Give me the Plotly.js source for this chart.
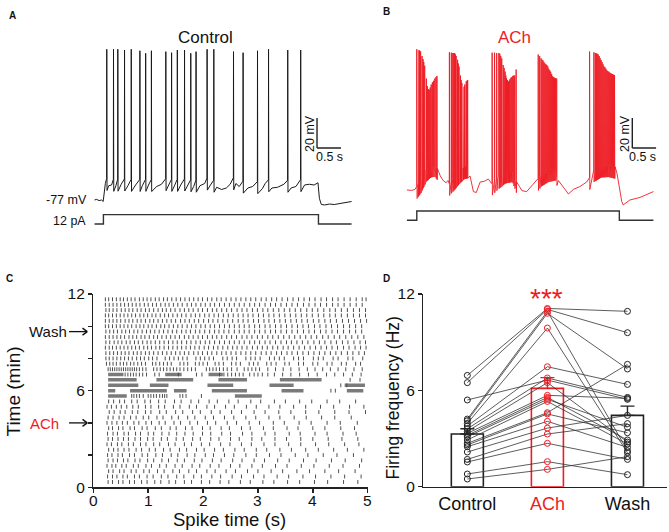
<!DOCTYPE html>
<html><head><meta charset="utf-8">
<script src="https://cdn.plot.ly/plotly-3.0.1.min.js"></script>
<style>html,body{margin:0;padding:0;background:#fff}#chart{width:669px;height:532px}</style>
</head><body><div id="chart"></div>
<script>
const FONT = 'Liberation Sans, Arial, Helvetica, sans-serif';
const RED = '#ED1C24';

// ---------------- Panel A (Control trace) ----------------
const aBaseT = [0,0.05,0.1,0.15,0.185,0.2,0.23,0.3,0.36,0.45,0.56,0.7,0.86,1.0,1.13,1.3,1.4,1.55,1.67,1.8,1.95,2.07,2.2,2.3,2.42,2.55,2.65,2.75,2.83,2.95,3.02,3.2,3.3,3.5,3.56,3.7,3.82,3.95,4.1,4.2,4.38,4.48,4.58,4.66,4.69,4.73,4.8,4.9,5.0,5.1,5.2,5.3,5.36];
const aBaseV = [-77,-76.6,-77.4,-77,-78,-72,-66,-67.5,-67,-67.5,-66.5,-67.5,-67,-67.5,-67,-68,-66.5,-67,-67.5,-67,-67,-68,-67.5,-66,-67,-68.5,-70,-69,-66.5,-66,-68,-69,-68,-69.5,-66,-69,-68.5,-66.5,-69,-68,-67,-66.5,-67,-65.5,-76,-80,-80.3,-79.7,-80,-79.5,-79.2,-78.5,-78];
const aSpikeT = [0.26,0.40,0.49,0.63,0.77,0.95,1.07,1.19,1.49,1.61,1.73,1.88,2.01,2.12,2.35,2.49,2.90,3.10,3.40,3.63,4.03,4.30];
const aSpikePeak = [23.5,23.5,23.5,23,23.5,22.5,20.8,22.5,21.9,21.2,23,23,20.8,21.9,23.5,23.5,21.9,21.2,22.5,23.5,23,23];
const aStepT = [0,0.19,0.19,4.67,4.67,5.36];
const aStepI = [0,0,12,12,0,0];

// ---------------- Panel B (ACh trace) ----------------
const bBaseT = [0,0.1,0.17,0.21,0.3,0.4,0.5,0.58,0.64,0.7,0.76,0.82,0.86,0.89,1.0,1.1,1.2,1.27,1.32,1.39,1.45,1.53,1.62,1.7,1.77,1.9,2.05,2.2,2.29,2.35,2.40,2.5,2.6,2.66,2.71,2.8,2.95,3.1,3.16,3.26,3.37,3.47,3.61,3.75,3.81,3.9,4.05,4.2,4.34,4.38,4.43,4.48,4.51,4.65,4.86,5.0,5.14];
const bBaseV = [-70.3,-70.6,-70,-68,-64,-57,-54,-53.5,-56,-61,-64,-65.5,-64,-66,-62,-58,-55,-54.5,-61,-71.4,-72,-65,-64.5,-63,-66,-62,-58,-57,-65,-68,-70.8,-71.4,-68,-66,-64,-60,-57,-56,-64,-68,-73,-70,-68,-65,-62,-57,-54,-53.7,-54.8,-59,-68,-78,-80.3,-77,-75.3,-73.5,-71.4];
const bSpikeT = [
  0.21,0.225,0.24,0.255,0.27,0.29,0.305,0.32,0.34,0.355,0.375,0.39,0.41,0.43,0.45,0.47,0.49,0.51,0.535,0.56,0.585,0.61,0.63,
  0.89,0.93,0.96,0.98,1.0,1.015,1.03,1.045,1.06,1.075,1.09,1.105,1.12,1.135,1.15,1.165,1.18,1.195,1.21,1.225,1.24,1.255,1.27,
  1.78,1.83,1.875,1.92,1.94,1.96,1.98,1.995,2.01,2.03,2.05,2.065,2.08,2.10,2.12,2.135,2.15,2.17,2.19,2.21,2.23,2.25,2.28,
  2.74,2.77,2.80,2.82,2.84,2.86,2.88,2.90,2.92,2.94,2.96,2.98,3.00,3.02,3.04,3.06,3.08,3.10,3.125,
  3.81,3.90,3.93,3.95,3.97,3.99,4.01,4.03,4.05,4.07,4.09,4.11,4.13,4.15,4.17,4.19,4.21,4.23,4.25,4.27,4.29,4.31,4.33];
const bSpikePeak = [
  23.5,23.5,23,23,22.5,22,21,19,17,15,12.5,9,4,-1,-3,-3.5,-2,0,1.5,2.5,4,5,5.7,
  21.5,21.2,21,21,21,20,19,18,16.5,14,12,9,6,3,1,-1,-2.3,-1.5,0,1,2,2.5,3,
  21.2,21.2,21,21,20.5,19,17.4,15,13,11,8.6,6,4.1,3,1.9,2.5,3.5,4.5,5,5.7,6,6,10,
  20,19,17.5,16.5,16,15,14,13.5,13,12,10.5,9.5,8.5,7,5.5,5,4.5,4.2,4,
  22,21.5,21,20.8,20.5,20,19,17.5,16.3,15,13.5,12,11.5,10.5,9.5,9,8.5,8,7.5,7.2,7,6.5,6.3];
const bStepT = [0,0.21,0.21,4.43,4.43,5.14];
const bStepI = [0,0,12,12,0,0];

// scale bars
const scaleMV = 20, scaleS = 0.5;
const aScaleAnchor = [4.64, -42.3];
const bScaleAnchor = [4.70, -42.3];

// ---------------- Panel C (raster) ----------------
const rasterRowMin = [0.33,0.67,1,1.33,1.67,2,2.33,2.67,3,3.33,3.67,4,4.33,4.67,5,5.33,5.67,6,6.33,6.67,7,7.33,7.67,8,8.33,8.67,9,9.33,9.67,10,10.33,10.67,11,11.33,11.67];
// spike times per row (hundredths of a second), bottom row first
const rasterSpikes = [
 "27 35 46 54 66 75 88 98 112 123 138 150 166 179 197 212 231 247 268 286 309 329 354 376 403 427 456 482",
 "26 35 43 54 62 75 84 98 109 124 136 152 165 183 197 216 232 253 270 292 311 335 356 382 405 433 458 488",
 "28 36 48 56 69 78 92 102 117 129 145 157 174 188 207 222 242 259 281 300 324 345 371 394 422 447 477",
 "25 34 41 52 60 73 82 96 106 121 133 149 162 180 194 213 229 250 267 289 308 332 353 379 402 430 455 485",
 "27 36 44 55 63 76 85 99 110 125 137 153 166 184 198 217 233 254 271 293 312 336 357 383 406 434 459 489",
 "26 34 45 53 66 75 89 99 114 126 142 154 171 185 204 219 239 256 278 297 321 342 368 391 419 444 474",
 "28 37 45 56 65 78 88 102 113 128 140 157 170 188 202 221 237 258 275 297 316 340 361 387 410 438 463 493",
 "25 33 44 52 64 73 86 96 110 121 137 149 166 179 197 212 232 249 270 288 311 331 356 378 405 429 458 484",
 "27 35 45 55 64 76 86 99 109 124 135 151 164 181 195 214 229 250 266 289 307 331 352 378 400 428 453 482",
 "26 36 44 56 64 77 86 100 110 125 138 152 167 182 199 214 234 250 272 289 313 331 357 377 404 426 455 479",
 "28 35 46 54 67 75 89 98 113 124 140 151 168 180 199 213 233 248 270 286 310 328 353 373 400 422 451 476",
 "25 34 43 53 62 74 83 96 106 120 131 147 159 176 190 208 223 244 261 284 303 328 348 375 397 426 450 481",
 "27 36 47 56 68 78 91 101 116 127 143 155 172 185 204 219 239 256 278 296 320 340 366 388 416 440 470",
 "29 38 49 58 71 81 95 105 121 133 150 163 181 195 215 231 252 270 293 313 338 360 387 411 440 466 496",
 "25 33 42 51 61 72 82 95 105 119 130 146 158 175 188 207 221 241 257 279 297 320 340 365 387 414 438 467 493",
 "28 37 48 57 70 80 94 104 119 131 148 160 178 192 211 226 247 264 287 305 330 350 376 398 426 449 478",
 "70 74 79 84 91 100 105 110 115 121 126 130 134 158 163 169 197",
 "433 441",
 "451 462",
 "468 486",
 "58 63 68 73 78 84 90 97 112 120 155 188 198 230 238 245 252 259 266 273 285 293 300 308 318 330 345 360 376 392 408 425 440 456 472 488",
 "27 31 35 39 43 47 51 55 59 63 67 71 75 79 84 90 96 110 116 122 128 134 140 146 152 158 165 172 179 186 206 212 218 224 230 237 244 252 262 275 282 289 296 303 318 332 346 360 375 390 404 418 432 446 460 475 490",
 "24 30 36 42 49 55 61 68 74 81 88 95 108 114 121 128 135 142 158 165 172 186 193 200 208 222 229 237 252 260 268 284 292 300 316 324 333 349 357 374 383 400 409 426 435 452 461 478 487",
 "23 29 36 43 50 57 64 71 79 86 93 101 108 116 131 139 147 155 163 171 187 195 203 211 219 236 244 253 261 278 287 295 304 321 330 339 348 365 374 383 401 410 419 437 446 464 473 491",
 "23 30 37 44 51 58 65 73 80 87 95 102 110 118 126 134 142 150 158 166 174 183 191 199 208 216 225 234 242 251 260 269 278 287 296 306 315 324 334 343 353 362 372 382 392 402 412 422 432 442 452 463 473 484 494",
 "22 29 35 42 49 56 63 70 77 84 92 99 106 114 121 129 137 145 153 161 169 177 185 193 202 210 219 227 236 245 254 262 271 280 290 299 308 317 327 336 346 355 365 375 385 395 405 415 425 435 445 456 466 477 487 497",
 "23 30 38 45 52 60 67 75 82 90 98 105 113 121 129 137 145 153 161 170 178 187 195 204 212 221 230 239 248 257 266 275 285 294 303 313 322 332 342 352 361 371 381 391 402 412 422 433 443 454 464 475 486 496",
 "22 29 36 43 50 57 65 72 79 87 94 102 110 117 125 133 141 149 157 166 174 182 191 199 208 217 225 234 243 252 261 271 280 289 299 308 318 327 337 347 357 367 377 387 397 407 418 428 439 449 460 471 482 493",
 "23 30 37 44 52 59 66 74 81 89 97 104 112 120 128 136 144 152 161 169 177 186 194 203 212 221 229 238 247 257 266 275 284 294 303 313 323 332 342 352 362 372 383 393 403 414 424 435 445 456 467 478 489",
 "22 28 35 42 49 56 63 70 78 85 92 100 107 115 123 130 138 146 154 162 171 179 187 196 204 213 221 230 239 248 257 266 275 284 294 303 313 322 332 342 352 362 372 382 392 403 413 424 434 445 456 467 478 489",
 "22 29 36 43 50 58 65 72 80 87 95 103 110 118 126 134 142 150 159 167 175 184 192 201 210 218 227 236 245 254 264 273 282 292 301 311 320 330 340 350 360 370 380 390 401 411 422 432 443 454 465 476 487 498",
 "22 28 35 42 49 56 63 70 77 85 92 99 107 114 122 130 137 145 153 161 169 178 186 194 203 211 220 228 237 246 255 264 273 282 291 301 310 320 329 339 349 359 369 379 389 399 410 420 431 441 452 463 474 485 496",
 "23 29 36 43 51 58 65 72 80 87 95 102 110 118 126 133 141 149 158 166 174 182 191 199 208 217 225 234 243 252 262 271 280 290 299 309 318 328 338 348 358 368 378 389 399 409 420 431 441 452 463 474 485 496",
 "22 29 36 43 50 57 64 71 78 85 93 100 108 115 123 131 138 146 154 162 171 179 187 196 204 213 221 230 239 248 257 266 275 285 294 303 313 323 332 342 352 362 372 383 393 404 414 425 436 446 457 468 479 490",
 "22 28 35 42 49 55 62 69 76 84 91 98 105 113 120 128 135 143 151 159 167 175 183 191 199 208 216 225 233 242 251 260 269 278 287 296 306 315 325 334 344 354 364 374 384 394 404 415 425 436 446 457 468 479 490 497"
];
// dense bursts per row index (start-end, hundredths of a second)
const rasterBursts = {16:"27-61 258-307", 17:"27-40 67-134 147-170 216-280 343-383 462-492", 18:"27-82 103-137 208-255 321-365 458-495", 19:"27-79 115-182 228-280 340-416", 20:"27-55 131-161 210-236"};
const rasterTickVals = [0,2,4,6,8,10,12];
const rasterTickText = ['0','','','6','','','12'];
const spikeTimeTicks = [0,1,2,3,4,5];
const washArrowMin = 9.67, achArrowMin = 4.0;

// ---------------- Panel D (firing frequency) ----------------
const groups = ['Control','ACh','Wash'];
const ctrlHz = [6.93,6.48,4.21,4.11,3.94,5.40,3.78,3.61,3.45,3.32,3.20,3.11,2.91,2.70,2.60,2.49,2.16,1.70,1.54,0.79,0.48];
const achHz  = [11.10,11.04,10.92,10.80,9.88,6.64,7.47,6.77,6.48,5.69,5.56,5.44,5.31,4.61,4.53,4.07,3.65,3.28,2.70,1.56,1.08];
const washHz = [10.92,9.59,2.24,7.33,2.12,5.44,6.37,5.56,2.78,5.50,2.91,3.70,2.66,7.62,3.36,2.45,4.44,3.93,1.70,0.75,1.87];
const meanHz = [3.28,6.12,4.44];
const semHz  = [0.33,0.67,0.58];
const groupColors = ['#222222', RED, '#222222'];

// ---------------- helpers ----------------
function interp(ts, vs, t){
  if (t <= ts[0]) return vs[0];
  for (let i=1;i<ts.length;i++){ if (t <= ts[i]) { const f=(t-ts[i-1])/(ts[i]-ts[i-1]); return vs[i-1]+f*(vs[i]-vs[i-1]); } }
  return vs[vs.length-1];
}
function buildTrace(baseT, baseV, spT, spPk, pre, drop){
  const pts = baseT.map((t,i)=>[t, baseV[i]]);
  spT.forEach((t,i)=>{ const b=interp(baseT, baseV, t); pts.push([t-0.003, b+pre],[t, spPk[i]],[t+0.005, b-drop]); });
  pts.sort((a,b)=>a[0]-b[0]);
  return {x: pts.map(p=>p[0]), y: pts.map(p=>p[1])};
}
const px = x => x/669, py = y => 1 - y/532;

const traces = [];
// A
const aTr = buildTrace(aBaseT, aBaseV, aSpikeT, aSpikePeak, 4, 4);
traces.push({x:aTr.x, y:aTr.y, xaxis:'x', yaxis:'y', mode:'lines', line:{color:'#1a1a1a', width:1}, hoverinfo:'skip'});
traces.push({x:aStepT, y:aStepI, xaxis:'x2', yaxis:'y2', mode:'lines', line:{color:'#333', width:1.4}, hoverinfo:'skip'});
traces.push({x:[aScaleAnchor[0],aScaleAnchor[0],null,aScaleAnchor[0],aScaleAnchor[0]+scaleS], y:[aScaleAnchor[1]+scaleMV,aScaleAnchor[1],null,aScaleAnchor[1],aScaleAnchor[1]], xaxis:'x', yaxis:'y', mode:'lines', line:{color:'#222', width:1.4}, hoverinfo:'skip'});
// B
const bTr = buildTrace(bBaseT, bBaseV, bSpikeT, bSpikePeak, 0, 8);
traces.push({x:bTr.x, y:bTr.y, xaxis:'x3', yaxis:'y3', mode:'lines', line:{color:RED, width:0.9}, hoverinfo:'skip'});
traces.push({x:bStepT, y:bStepI, xaxis:'x4', yaxis:'y4', mode:'lines', line:{color:'#333', width:1.4}, hoverinfo:'skip'});
traces.push({x:[bScaleAnchor[0],bScaleAnchor[0],null,bScaleAnchor[0],bScaleAnchor[0]+scaleS], y:[bScaleAnchor[1]+scaleMV,bScaleAnchor[1],null,bScaleAnchor[1],bScaleAnchor[1]], xaxis:'x3', yaxis:'y3', mode:'lines', line:{color:'#222', width:1.4}, hoverinfo:'skip'});
// C
const tx=[], ty=[];
rasterSpikes.forEach((s,i)=>{ if(!s) return; s.trim().split(/\s+/).forEach(v=>{ const t=+v/100; tx.push(t,t,null); ty.push(rasterRowMin[i]-0.12, rasterRowMin[i]+0.12, null); }); });
traces.push({x:tx, y:ty, xaxis:'x5', yaxis:'y5', mode:'lines', line:{color:'#3a3a3a', width:0.9}, hoverinfo:'skip'});
const bx=[], by=[];
Object.keys(rasterBursts).forEach(k=>{ rasterBursts[k].split(' ').forEach(seg=>{ const [s,e]=seg.split('-').map(v=>+v/100); bx.push(s,e,null); by.push(rasterRowMin[k],rasterRowMin[k],null); }); });
traces.push({x:bx, y:by, xaxis:'x5', yaxis:'y5', mode:'lines', line:{color:'rgba(70,70,70,0.72)', width:3.5}, hoverinfo:'skip'});
// D bars
for (let g=0; g<3; g++){
  traces.push({type:'bar', x:[g], y:[meanHz[g]], width:0.4, xaxis:'x6', yaxis:'y6', marker:{color:'white', line:{color:groupColors[g], width:1.6}},
    error_y:{type:'data', symmetric:false, array:[semHz[g]], arrayminus:[0], color:groupColors[g], thickness:1.4, width:7}, hoverinfo:'skip'});
}
// D paired lines
const lx=[], ly=[];
ctrlHz.forEach((c,i)=>{ lx.push(0,1,2,null); ly.push(c, achHz[i], washHz[i], null); });
traces.push({x:lx, y:ly, xaxis:'x6', yaxis:'y6', mode:'lines', line:{color:'#333', width:0.8}, hoverinfo:'skip'});
[ctrlHz, achHz, washHz].forEach((arr,g)=>{
  traces.push({x:arr.map(()=>g), y:arr, xaxis:'x6', yaxis:'y6', mode:'markers', marker:{symbol:'circle-open', size:6, color:groupColors[g], line:{width:1, color:groupColors[g]}}, hoverinfo:'skip'});
});

const hid = {visible:false, fixedrange:true};
const axStyle = {showline:true, linecolor:'#222', linewidth:1.4, ticks:'outside', ticklen:4, tickwidth:1.4, tickcolor:'#222', showgrid:false, zeroline:false,
  tickfont:{family:FONT, size:15.5, color:'#111'}};

const ann = [];
function txt(x,y,text,opt){ ann.push(Object.assign({xref:'paper', yref:'paper', x:px(x), y:py(y), text:text, showarrow:false, xanchor:'center', yanchor:'middle',
  font:{family:FONT, size:13, color:'#111'}}, opt||{})); }
txt(12,15,'<b>A</b>',{font:{family:FONT,size:10,color:'#111'}});
txt(386,12,'<b>B</b>',{font:{family:FONT,size:10,color:'#111'}});
txt(9,278,'<b>C</b>',{font:{family:FONT,size:10,color:'#111'}});
txt(386,278,'<b>D</b>',{font:{family:FONT,size:10,color:'#111'}});
txt(205,37,'Control',{font:{family:FONT,size:17,color:'#111'}});
txt(514,37,'ACh',{font:{family:FONT,size:17,color:RED}});
txt(89,200,'-77 mV',{xanchor:'right', font:{family:FONT,size:12.5,color:'#111'}});
txt(88,221,'12 pA',{xanchor:'right', font:{family:FONT,size:12.5,color:'#111'}});
txt(310,134,'20 mV',{textangle:-90, font:{family:FONT,size:12.5,color:'#111'}});
txt(329,157,'0.5 s',{font:{family:FONT,size:12.5,color:'#111'}});
txt(625,134,'20 mV',{textangle:-90, font:{family:FONT,size:12.5,color:'#111'}});
txt(642,157,'0.5 s',{font:{family:FONT,size:12.5,color:'#111'}});
txt(12.5,392,'Time (min)',{textangle:-90, font:{family:FONT,size:19,color:'#111'}});
txt(230,519,'Spike time (s)',{font:{family:FONT,size:18.5,color:'#111'}});
// x tick labels of the raster (placed like the reference)
spikeTimeTicks.forEach(v=>{ txt(93.3 + v*(367.7-93.3)/5, 500.5, String(v), {font:{family:FONT,size:15.5,color:'#111'}}); });
txt(48,331.7,'Wash',{font:{family:FONT,size:15,color:'#111'}});
txt(44.5,423,'ACh',{font:{family:FONT,size:15,color:RED}});
txt(392.5,398,'Firing frequency (Hz)',{textangle:-90, font:{family:FONT,size:17.5,color:'#111'}});
txt(546.7,298,'***',{font:{family:FONT,size:28,color:RED}});

// arrows (in raster minute positions)
const shapes = [];
[washArrowMin, achArrowMin].forEach(m=>{
  const yy = 487.3 - m*16.1;
  shapes.push({type:'line', xref:'paper', yref:'paper', x0:px(69), x1:px(87), y0:py(yy), y1:py(yy), line:{color:'#111', width:1.3}});
  shapes.push({type:'line', xref:'paper', yref:'paper', x0:px(82.5), x1:px(87.3), y0:py(yy-3.5), y1:py(yy), line:{color:'#111', width:1.3}});
  shapes.push({type:'line', xref:'paper', yref:'paper', x0:px(82.5), x1:px(87.3), y0:py(yy+3.5), y1:py(yy), line:{color:'#111', width:1.3}});
});

const layout = {
  width:669, height:532, margin:{l:0,r:0,t:0,b:0}, paper_bgcolor:'#fff', plot_bgcolor:'rgba(0,0,0,0)', showlegend:false, barmode:'overlay',
  font:{family:FONT},
  xaxis:Object.assign({domain:[px(94.3),px(353.5)], range:[0,5.4], anchor:'y'},hid),
  yaxis:Object.assign({domain:[py(227),py(39.5)], range:[-95,30], anchor:'x'},hid),
  xaxis2:Object.assign({domain:[px(94.3),px(353.5)], range:[0,5.4], anchor:'y2'},hid),
  yaxis2:Object.assign({domain:[py(227.9),py(207.6)], range:[-5,21], anchor:'x2'},hid),
  xaxis3:Object.assign({domain:[px(406.7),px(656.3)], range:[0,5.2], anchor:'y3'},hid),
  yaxis3:Object.assign({domain:[py(227),py(39.5)], range:[-95,30], anchor:'x3'},hid),
  xaxis4:Object.assign({domain:[px(406.7),px(656.3)], range:[0,5.2], anchor:'y4'},hid),
  yaxis4:Object.assign({domain:[py(224.2),py(203.9)], range:[-5,21], anchor:'x4'},hid),
  xaxis5:Object.assign({}, axStyle, {domain:[px(93.3),px(367.7)], range:[0,5], anchor:'y5', tickvals:spikeTimeTicks, showticklabels:false, fixedrange:true}),
  yaxis5:Object.assign({}, axStyle, {domain:[py(487.3),py(294)], range:[0,12], anchor:'x5', tickvals:rasterTickVals, ticktext:rasterTickText, fixedrange:true}),
  xaxis6:Object.assign({}, axStyle, {domain:[px(423.3),px(666.7)], range:[-0.55,2.49], anchor:'y6', ticks:'', tickvals:[0,1,2], ticktext:['Control','<span style="color:'+RED+'">ACh</span>','Wash'], tickfont:{family:FONT,size:18,color:'#111'}, fixedrange:true}),
  yaxis6:Object.assign({}, axStyle, {domain:[py(486.7),py(294)], range:[0,12], anchor:'x6', tickvals:[0,6,12], fixedrange:true}),
  annotations: ann,
  shapes: shapes
};
Plotly.newPlot('chart', traces, layout, {staticPlot:true, displayModeBar:false});
</script></body></html>
